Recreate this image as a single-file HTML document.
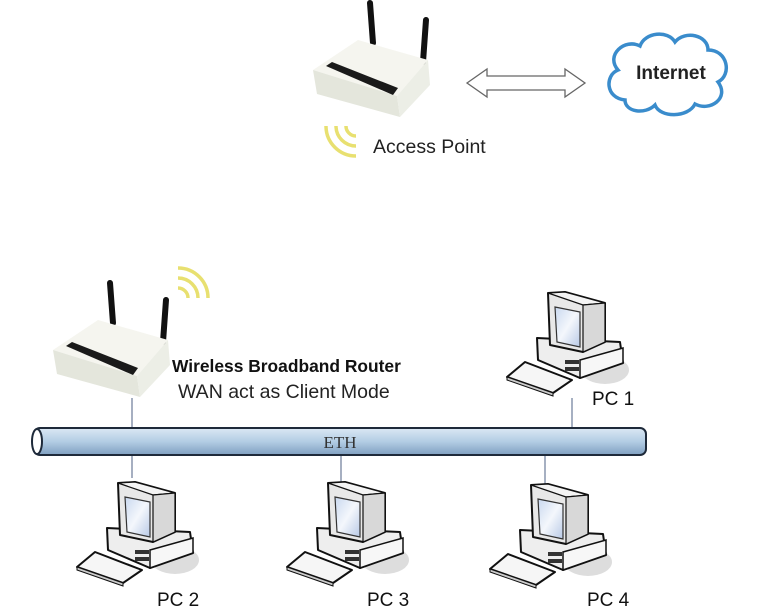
<!DOCTYPE html>
<html><head><meta charset="utf-8"><style>
html,body{margin:0;padding:0;background:#fff;}
svg{display:block;}
</style></head><body>
<svg width="764" height="610" viewBox="0 0 764 610" xmlns="http://www.w3.org/2000/svg" font-family="Liberation Sans, sans-serif">
<defs>
<linearGradient id="pipe" x1="0" y1="0" x2="0" y2="1">
<stop offset="0" stop-color="#dbe8f4"/><stop offset="0.5" stop-color="#b3cde4"/><stop offset="1" stop-color="#7f9fc0"/>
</linearGradient>
<linearGradient id="scr" x1="0" y1="0" x2="1" y2="1">
<stop offset="0" stop-color="#c9d8ef"/><stop offset="0.5" stop-color="#f4f7fc"/><stop offset="1" stop-color="#b8c9e6"/>
</linearGradient>
<g id="router">
<path d="M110,283 L113,323" stroke="#111" stroke-width="6" stroke-linecap="round"/>
<path d="M166,300 L163,342" stroke="#111" stroke-width="6" stroke-linecap="round"/>
<polygon points="53,350 98,320 168,340 137,376" fill="#f5f5ef"/>
<polygon points="53,350 137,376 140,397 57,374" fill="#e4e6dc"/>
<polygon points="137,376 168,340 170,365 140,397" fill="#eceee6"/>
<polygon points="66,346 72,342 138,368 133,375" fill="#1a1a1a"/>
</g>
<g id="pc">
<ellipse cx="100" cy="80" rx="24" ry="14" fill="#ddd"/>
<polygon points="32,48 115,52 118,73 75,88 33,70" fill="#eee" stroke="#111" stroke-width="2" stroke-linejoin="round"/>
<polygon points="75,70 118,58 118,73 75,88" fill="#f7f7f7" stroke="#111" stroke-width="1.5"/>
<rect x="60" y="70" width="14" height="4" fill="#333"/>
<rect x="60" y="77" width="14" height="4" fill="#333"/>
<polygon points="43,3 60,2 100,13 100,52 78,62 45,55" fill="#e8e8e8" stroke="#111" stroke-width="2" stroke-linejoin="round"/>
<polygon points="43,3 60,2 100,13 78,15" fill="#f4f4f4" stroke="#111" stroke-width="1.2"/>
<polygon points="78,15 100,13 100,52 78,62" fill="#d8d8d8" stroke="#111" stroke-width="1.2"/>
<polygon points="50,17 75,22 75,57 52,52" fill="url(#scr)" stroke="#333" stroke-width="1.2"/>
<polygon points="2,87 20,72 67,90 48,103" fill="#f6f6f6" stroke="#111" stroke-width="2" stroke-linejoin="round"/>
<polygon points="2,87 48,103 48,106 2,90" fill="#ccc" stroke="#111" stroke-width="1"/>
</g>
</defs>

<use href="#router" transform="translate(260,-280)"/>
<g fill="none" stroke="#e8e070" stroke-width="3.5">
<path d="M346,126 A10,10 0 0 0 356,136"/>
<path d="M336,126 A20,20 0 0 0 356,146"/>
<path d="M326,126 A30,30 0 0 0 356,156"/>
</g>
<text x="373" y="153" font-size="19.5" fill="#222">Access Point</text>

<polygon points="467,83 487,69 487,76 565,76 565,69 585,83 565,97 565,90 487,90 487,97" fill="#fff" stroke="#666" stroke-width="1.3"/>

<path d="M625,100 C605,98 605,75 618,70 C605,55 625,38 640,46 C645,32 668,30 675,42 C685,30 708,35 708,50 C728,50 732,75 718,82 C730,98 710,112 695,104 C688,118 660,118 655,105 C645,115 625,112 625,100 Z" fill="#fff" stroke="#3a8ccc" stroke-width="3.5"/>
<text x="671" y="79" font-size="19" font-weight="bold" fill="#222" text-anchor="middle">Internet</text>

<use href="#router"/>
<g fill="none" stroke="#e8e070" stroke-width="3.5">
<path d="M178,288 A10,10 0 0 1 188,298"/>
<path d="M178,278 A20,20 0 0 1 198,298"/>
<path d="M178,268 A30,30 0 0 1 208,298"/>
</g>
<text x="172" y="372" font-size="17.4" font-weight="bold" fill="#111">Wireless Broadband Router</text>
<text x="178" y="398" font-size="19.5" fill="#222">WAN act as Client Mode</text>

<g stroke="#6a7a98" stroke-width="1.2">
<line x1="132" y1="398" x2="132" y2="478"/>
<line x1="341" y1="440" x2="341" y2="482"/>
<line x1="545" y1="440" x2="545" y2="486"/>
<line x1="572" y1="398" x2="572" y2="440"/>
</g>

<rect x="34" y="428" width="612" height="27" rx="6" fill="url(#pipe)" stroke="#1e2a3a" stroke-width="2"/>
<ellipse cx="37" cy="441.5" rx="5" ry="12.5" fill="#fff" stroke="#1e2a3a" stroke-width="2"/>
<text x="340" y="448" font-size="17" fill="#333" font-family="Liberation Serif, serif" text-anchor="middle">ETH</text>

<use href="#pc" transform="translate(505,290)"/>
<text x="592" y="405" font-size="19" fill="#111">PC 1</text>
<use href="#pc" transform="translate(75,480)"/>
<text x="157" y="606" font-size="19" fill="#111">PC 2</text>
<use href="#pc" transform="translate(285,480)"/>
<text x="367" y="606" font-size="19" fill="#111">PC 3</text>
<use href="#pc" transform="translate(488,482)"/>
<text x="587" y="606" font-size="19" fill="#111">PC 4</text>
</svg>
</body></html>
